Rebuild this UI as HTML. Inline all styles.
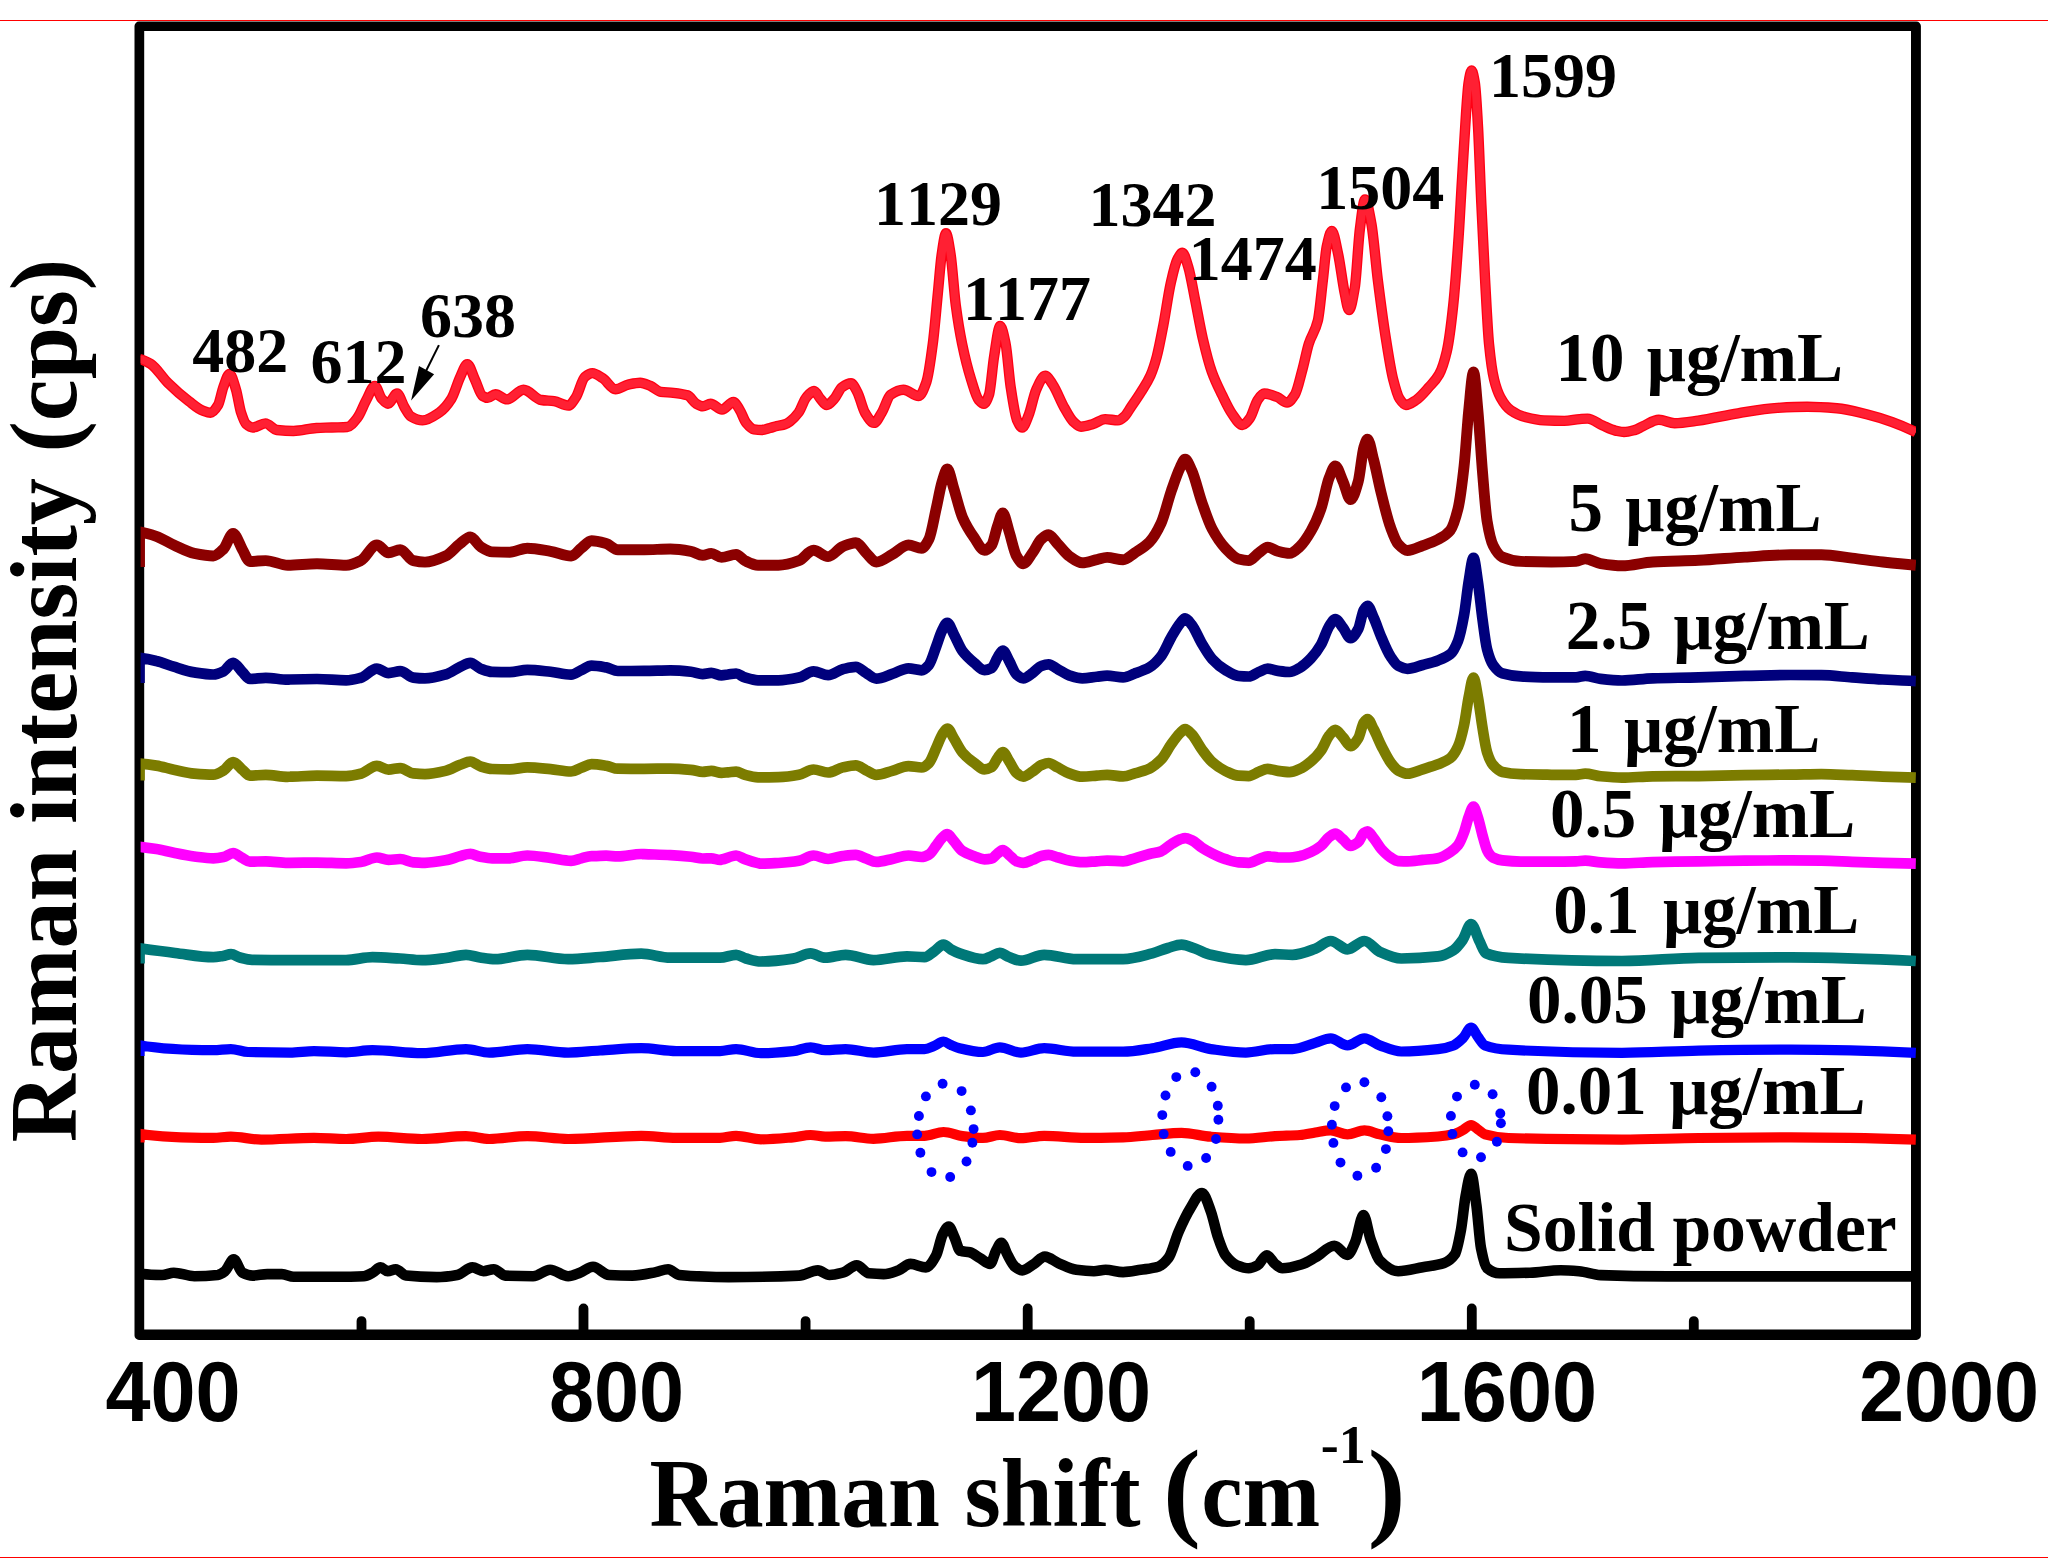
<!DOCTYPE html>
<html lang="en"><head><meta charset="utf-8"><title>Raman spectra</title>
<style>html,body{margin:0;padding:0;background:#fff}body{width:2054px;height:1566px;overflow:hidden}svg{display:block}</style>
</head><body>
<svg width="2054" height="1566" viewBox="0 0 2054 1566">
<defs><clipPath id="cp"><rect x="140.6" y="0" width="1775.4" height="1400"/></clipPath></defs>
<rect x="0" y="0" width="2054" height="1566" fill="#fff"/>
<rect x="0" y="20" width="2048" height="1" fill="#f00"/>
<rect x="0" y="1557" width="2048" height="1" fill="#f00"/>
<path d="M361.5 1334.4V1321.05M583.5 1334.4V1308.4M805.6 1334.4V1321.05M1027.7 1334.4V1308.4M1249.7 1334.4V1321.05M1471.8 1334.4V1308.4M1693.8 1334.4V1321.05" stroke="#000" stroke-width="9.8" stroke-linecap="round" fill="none"/>
<path fill="#000" fill-rule="evenodd" d="M139 21.6H1916.4a4.5 4.5 0 0 1 4.5 4.5V1335.4a4.5 4.5 0 0 1 -4.5 4.5H139a4.5 4.5 0 0 1 -4.5 -4.5V26.1a4.5 4.5 0 0 1 4.5 -4.5ZM144.2 31V1329.5H1911V31Z"/>
<g clip-path="url(#cp)" fill="none" stroke-linejoin="round" stroke-linecap="butt">
<path d="M143.1 1274.1C149.4 1275.0 155.8 1275.0 162.1 1275.0C166.0 1275.0 169.9 1272.7 173.8 1272.7C180.6 1272.7 187.5 1276.2 194.3 1276.2C202.1 1276.2 209.8 1275.8 217.6 1275.0C220.0 1274.7 222.5 1273.0 224.9 1271.2C227.8 1269.0 230.8 1259.4 233.7 1259.4C236.6 1259.4 239.6 1271.3 242.5 1272.7C245.9 1274.4 249.3 1275.6 252.7 1275.6C257.6 1275.6 262.4 1274.1 267.3 1274.1C272.2 1274.1 277.0 1274.1 281.9 1274.1C285.8 1274.1 289.7 1276.8 293.6 1276.8C307.2 1276.8 320.9 1276.8 334.5 1276.8C344.2 1276.8 354.0 1276.7 363.7 1276.2C366.6 1276.1 369.6 1274.2 372.5 1272.7C375.2 1271.4 377.9 1267.4 380.6 1267.4C382.9 1267.4 385.3 1271.2 387.6 1271.2C390.3 1271.2 393.1 1269.2 395.8 1269.2C399.2 1269.2 402.6 1275.2 406.0 1275.6C416.2 1276.7 426.5 1277.1 436.7 1277.1C443.5 1277.1 450.4 1276.2 457.2 1275.0C462.3 1274.1 467.3 1267.4 472.4 1267.4C476.1 1267.4 479.8 1271.2 483.5 1271.2C486.9 1271.2 490.3 1269.2 493.7 1269.2C497.6 1269.2 501.5 1275.4 505.4 1275.6C514.6 1276.0 523.9 1276.2 533.1 1276.2C538.8 1276.2 544.4 1269.8 550.1 1269.8C556.1 1269.8 562.2 1276.2 568.2 1276.2C572.1 1276.2 576.0 1274.1 579.9 1272.7C584.3 1271.1 588.6 1266.8 593.0 1266.8C598.4 1266.8 603.7 1274.7 609.1 1275.0C616.9 1275.4 624.6 1275.6 632.4 1275.6C640.2 1275.6 648.0 1273.6 655.8 1272.1C659.9 1271.3 664.0 1269.2 668.1 1269.2C671.8 1269.2 675.5 1274.6 679.2 1275.0C695.7 1276.6 712.3 1277.1 728.8 1277.1C752.2 1277.1 775.5 1276.7 798.9 1275.6C805.2 1275.3 811.6 1270.4 817.9 1270.4C821.8 1270.4 825.6 1275.0 829.5 1275.0C833.9 1275.0 838.3 1273.8 842.7 1272.7C847.4 1271.5 852.0 1265.4 856.7 1265.4C860.8 1265.4 864.9 1272.9 869.0 1273.3C873.9 1273.8 878.7 1274.1 883.6 1274.1C888.5 1274.1 893.3 1272.1 898.2 1270.4C902.3 1269.0 906.4 1263.9 910.5 1263.9C915.6 1263.9 920.8 1267.4 925.9 1267.4C929.3 1267.4 932.8 1261.4 936.2 1255.2C938.3 1251.4 940.5 1238.7 942.6 1234.7C944.6 1230.9 946.7 1226.5 948.7 1226.5C950.7 1226.5 952.6 1233.4 954.6 1237.6C956.4 1241.5 958.3 1250.3 960.1 1250.8C963.3 1251.8 966.6 1251.5 969.8 1252.2C973.2 1253.0 976.6 1256.2 980.0 1258.1C983.4 1260.0 986.8 1263.9 990.2 1263.9C992.1 1263.9 994.1 1254.3 996.0 1250.8C997.8 1247.6 999.5 1242.7 1001.3 1242.7C1003.4 1242.7 1005.6 1251.5 1007.7 1255.2C1010.1 1259.5 1012.6 1265.0 1015.0 1266.8C1017.4 1268.6 1019.9 1270.4 1022.3 1270.4C1026.2 1270.4 1030.1 1266.3 1034.0 1263.9C1037.6 1261.7 1041.2 1256.6 1044.8 1256.6C1049.5 1256.6 1054.1 1261.3 1058.8 1263.3C1064.7 1265.8 1070.5 1269.0 1076.4 1269.8C1082.2 1270.6 1088.1 1271.2 1093.9 1271.2C1097.8 1271.2 1101.7 1269.8 1105.6 1269.8C1111.4 1269.8 1117.3 1272.1 1123.1 1272.1C1128.9 1272.1 1134.8 1270.7 1140.6 1269.8C1146.5 1268.9 1152.3 1268.6 1158.2 1266.8C1161.6 1265.8 1165.0 1262.5 1168.4 1258.1C1171.8 1253.7 1175.2 1239.5 1178.6 1231.8C1182.5 1223.0 1186.4 1214.6 1190.3 1208.4C1194.2 1202.2 1198.1 1193.0 1202.0 1193.0C1204.9 1193.0 1207.9 1203.5 1210.8 1211.3C1213.2 1217.8 1215.7 1230.6 1218.1 1237.6C1220.5 1244.6 1223.0 1251.9 1225.4 1255.2C1229.3 1260.4 1233.1 1263.9 1237.0 1265.4C1240.9 1266.9 1244.8 1268.3 1248.7 1268.3C1251.6 1268.3 1254.6 1266.9 1257.5 1265.4C1260.6 1263.8 1263.7 1255.2 1266.8 1255.2C1269.5 1255.2 1272.3 1261.8 1275.0 1263.9C1277.4 1265.8 1279.9 1268.3 1282.3 1268.3C1288.6 1268.3 1295.0 1266.4 1301.3 1264.5C1306.0 1263.1 1310.6 1260.0 1315.3 1257.4C1321.7 1253.9 1328.0 1245.7 1334.4 1245.7C1338.8 1245.7 1343.1 1254.9 1347.5 1254.9C1350.1 1254.9 1352.6 1247.7 1355.2 1242.0C1358.0 1235.9 1360.7 1215.0 1363.5 1215.0C1365.8 1215.0 1368.2 1232.4 1370.5 1238.9C1373.6 1247.5 1376.6 1257.3 1379.7 1260.4C1385.8 1266.6 1392.0 1271.2 1398.1 1271.2C1406.3 1271.2 1414.5 1268.7 1422.7 1267.2C1429.9 1265.9 1437.0 1265.4 1444.2 1262.9C1447.8 1261.7 1451.3 1259.4 1454.9 1254.3C1456.9 1251.4 1459.0 1240.4 1461.0 1229.7C1462.5 1221.6 1464.1 1204.0 1465.6 1196.0C1467.4 1186.4 1469.3 1173.9 1471.1 1173.9C1472.9 1173.9 1474.6 1192.4 1476.4 1205.2C1477.9 1216.3 1479.5 1240.5 1481.0 1248.1C1483.0 1258.2 1485.1 1266.4 1487.1 1268.1C1491.2 1271.5 1495.3 1273.3 1499.4 1273.3C1509.6 1273.3 1519.8 1273.0 1530.0 1272.7C1540.2 1272.4 1550.5 1270.2 1560.7 1270.2C1566.8 1270.2 1573.0 1270.7 1579.1 1271.2C1586.3 1271.8 1593.4 1274.8 1600.6 1275.1C1623.1 1276.0 1645.6 1276.4 1668.1 1276.4C1709.0 1276.4 1749.9 1276.4 1790.8 1276.4C1831.2 1276.4 1871.6 1276.4 1912.0 1276.4" stroke="#000000" stroke-width="10.6"/>
<path d="M139.5 1142.5L139.5 1133.8C164.1 1137.6 188.7 1137.9 213.3 1137.9C219.1 1137.9 225.0 1136.7 230.8 1136.7C241.0 1136.7 251.2 1139.6 261.4 1139.6C278.9 1139.6 296.5 1137.9 314.0 1137.9C324.7 1137.9 335.5 1139.0 346.2 1139.0C356.9 1139.0 367.6 1136.7 378.3 1136.7C392.9 1136.7 407.4 1139.0 422.0 1139.0C436.7 1139.0 451.3 1136.1 466.0 1136.1C473.8 1136.1 481.5 1139.0 489.3 1139.0C502.0 1139.0 514.6 1136.1 527.3 1136.1C540.9 1136.1 554.6 1139.0 568.2 1139.0C592.5 1139.0 616.9 1135.8 641.2 1135.8C652.9 1135.8 664.6 1137.9 676.3 1137.9C690.9 1137.9 705.4 1137.9 720.0 1137.9C725.4 1137.9 730.7 1135.8 736.1 1135.8C744.4 1135.8 752.6 1139.3 760.9 1139.3C771.6 1139.3 782.3 1138.2 793.0 1137.3C798.9 1136.8 804.7 1135.0 810.6 1135.0C815.5 1135.0 820.3 1136.7 825.2 1136.7C832.0 1136.7 838.8 1136.1 845.6 1136.1C854.9 1136.1 864.1 1138.8 873.4 1138.8C884.6 1138.8 895.8 1135.8 907.0 1135.8C912.8 1135.8 918.7 1135.8 924.5 1135.8C930.8 1135.8 937.2 1132.0 943.5 1132.0C949.8 1132.0 956.2 1135.3 962.5 1136.1C969.3 1137.0 976.1 1137.9 982.9 1137.9C988.5 1137.9 994.2 1135.0 999.8 1135.0C1006.8 1135.0 1013.9 1138.2 1020.9 1138.2C1028.7 1138.2 1036.4 1135.8 1044.2 1135.8C1057.8 1135.8 1071.4 1137.9 1085.0 1137.9C1097.7 1137.9 1110.4 1137.6 1123.1 1137.3C1132.8 1137.0 1142.6 1135.7 1152.3 1135.0C1162.0 1134.3 1171.8 1132.9 1181.5 1132.9C1191.3 1132.9 1201.0 1136.0 1210.8 1136.7C1222.5 1137.6 1234.1 1138.5 1245.8 1138.5C1255.5 1138.5 1265.3 1136.7 1275.0 1136.1C1283.3 1135.6 1291.7 1135.6 1300.0 1135.0C1305.1 1134.6 1310.2 1133.3 1315.3 1132.5C1320.4 1131.7 1325.6 1130.4 1330.7 1130.4C1336.3 1130.4 1341.9 1134.3 1347.5 1134.3C1353.1 1134.3 1358.8 1130.4 1364.4 1130.4C1369.5 1130.4 1374.6 1133.2 1379.7 1134.3C1386.9 1135.8 1394.0 1138.0 1401.2 1138.0C1413.5 1138.0 1425.7 1137.3 1438.0 1136.5C1443.1 1136.1 1448.3 1135.5 1453.4 1134.3C1456.6 1133.6 1459.8 1131.7 1463.0 1130.0C1465.7 1128.6 1468.4 1125.1 1471.1 1125.1C1473.4 1125.1 1475.7 1128.0 1478.0 1129.5C1480.3 1131.0 1482.7 1133.6 1485.0 1134.3C1492.9 1136.6 1500.7 1137.8 1508.6 1138.0C1546.4 1139.2 1584.2 1139.6 1622.0 1139.6C1647.6 1139.6 1673.1 1138.3 1698.7 1138.0C1729.4 1137.7 1760.1 1137.4 1790.8 1137.4C1832.5 1137.4 1874.1 1138.3 1915.8 1139.6" stroke="#FF0000" stroke-width="10.2"/>
<path d="M139.5 1056L139.5 1045.3C164.1 1049.5 188.7 1050.2 213.3 1050.2C219.1 1050.2 225.0 1049.1 230.8 1049.1C236.5 1049.1 242.3 1051.8 248.0 1052.0C262.0 1052.4 276.0 1052.6 290.0 1052.6C298.0 1052.6 306.0 1051.1 314.0 1051.1C324.7 1051.1 335.3 1052.3 346.0 1052.3C354.8 1052.3 363.7 1050.2 372.5 1050.2C389.0 1050.2 405.5 1053.2 422.0 1053.2C436.7 1053.2 451.3 1049.1 466.0 1049.1C473.8 1049.1 481.5 1052.6 489.3 1052.6C502.0 1052.6 514.6 1049.1 527.3 1049.1C540.9 1049.1 554.6 1052.6 568.2 1052.6C578.8 1052.6 589.4 1051.1 600.0 1050.5C613.7 1049.7 627.5 1048.2 641.2 1048.2C652.9 1048.2 664.6 1051.1 676.3 1051.1C690.9 1051.1 705.4 1051.1 720.0 1051.1C725.4 1051.1 730.7 1049.1 736.1 1049.1C744.4 1049.1 752.6 1053.2 760.9 1053.2C771.6 1053.2 782.3 1052.2 793.0 1051.1C798.9 1050.5 804.7 1047.3 810.6 1047.3C815.5 1047.3 820.3 1050.2 825.2 1050.2C832.0 1050.2 838.8 1049.1 845.6 1049.1C854.9 1049.1 864.1 1052.6 873.4 1052.6C884.6 1052.6 895.8 1049.1 907.0 1049.1C912.8 1049.1 918.7 1049.1 924.5 1049.1C927.7 1049.1 930.8 1047.2 934.0 1046.0C937.2 1044.8 940.3 1041.5 943.5 1041.5C946.0 1041.5 948.5 1044.0 951.0 1045.0C953.8 1046.2 956.7 1047.5 959.5 1048.2C967.3 1050.1 975.1 1052.0 982.9 1052.0C988.5 1052.0 994.2 1047.3 999.8 1047.3C1006.8 1047.3 1013.9 1052.6 1020.9 1052.6C1028.7 1052.6 1036.4 1048.2 1044.2 1048.2C1054.9 1048.2 1065.7 1051.7 1076.4 1051.7C1092.0 1051.7 1107.5 1051.7 1123.1 1051.7C1132.8 1051.7 1142.6 1049.7 1152.3 1048.2C1162.0 1046.7 1171.8 1042.4 1181.5 1042.4C1191.3 1042.4 1201.0 1047.7 1210.8 1049.1C1222.5 1050.7 1234.1 1052.6 1245.8 1052.6C1255.5 1052.6 1265.3 1049.1 1275.0 1049.1C1280.8 1049.1 1286.7 1049.1 1292.5 1049.1C1300.1 1049.1 1307.7 1045.1 1315.3 1042.9C1320.4 1041.4 1325.6 1038.3 1330.7 1038.3C1336.3 1038.3 1341.9 1045.4 1347.5 1045.4C1353.1 1045.4 1358.8 1038.3 1364.4 1038.3C1369.5 1038.3 1374.6 1043.6 1379.7 1045.4C1386.9 1048.0 1394.0 1051.5 1401.2 1051.5C1413.5 1051.5 1425.7 1050.5 1438.0 1049.1C1443.1 1048.5 1448.3 1047.4 1453.4 1045.4C1456.6 1044.2 1459.8 1041.1 1463.0 1038.0C1465.7 1035.4 1468.4 1027.6 1471.1 1027.6C1473.4 1027.6 1475.7 1034.1 1478.0 1037.0C1480.3 1040.0 1482.7 1044.5 1485.0 1045.4C1492.9 1048.3 1500.7 1049.3 1508.6 1049.7C1546.4 1051.8 1584.2 1052.8 1622.0 1052.8C1647.6 1052.8 1673.1 1051.0 1698.7 1050.6C1729.4 1050.1 1760.1 1049.7 1790.8 1049.7C1832.5 1049.7 1874.1 1050.9 1915.8 1052.8" stroke="#0000FF" stroke-width="10.2"/>
<path d="M139.5 963.6L139.5 948.4C151.3 950.0 163.2 951.6 175.0 953.0C187.8 954.5 200.5 957.2 213.3 957.2C216.5 957.2 219.8 956.5 223.0 956.0C225.7 955.6 228.3 954.2 231.0 954.2C234.0 954.2 237.0 956.7 240.0 957.5C244.0 958.5 248.0 959.7 252.0 959.8C264.7 960.0 277.3 960.1 290.0 960.1C308.7 960.1 327.3 960.1 346.0 960.1C354.8 960.1 363.7 957.2 372.5 957.2C381.7 957.2 390.8 958.0 400.0 958.5C407.3 958.9 414.7 960.1 422.0 960.1C430.0 960.1 438.0 958.9 446.0 958.0C452.7 957.2 459.3 954.8 466.0 954.8C470.7 954.8 475.3 956.8 480.0 957.5C485.0 958.2 490.0 959.2 495.0 959.2C505.8 959.2 516.5 954.8 527.3 954.8C540.9 954.8 554.6 959.2 568.2 959.2C578.8 959.2 589.4 957.8 600.0 957.0C613.7 956.0 627.5 953.7 641.2 953.7C650.9 953.7 660.7 957.7 670.4 957.7C686.9 957.7 703.5 957.7 720.0 957.7C725.4 957.7 730.7 954.8 736.1 954.8C739.4 954.8 742.7 957.6 746.0 958.5C751.0 959.8 755.9 961.5 760.9 961.5C771.6 961.5 782.3 960.2 793.0 958.6C798.9 957.7 804.7 953.4 810.6 953.4C815.5 953.4 820.3 957.7 825.2 957.7C832.0 957.7 838.8 954.8 845.6 954.8C854.9 954.8 864.1 960.1 873.4 960.1C884.6 960.1 895.8 956.3 907.0 956.3C912.8 956.3 918.7 957.2 924.5 957.2C927.7 957.2 930.8 953.6 934.0 951.5C937.2 949.4 940.3 944.6 943.5 944.6C946.0 944.6 948.5 948.1 951.0 949.5C953.8 951.0 956.7 952.4 959.5 953.4C967.3 956.0 975.1 959.2 982.9 959.2C985.6 959.2 988.3 957.5 991.0 956.5C993.9 955.4 996.9 952.8 999.8 952.8C1002.9 952.8 1005.9 955.9 1009.0 957.0C1013.0 958.5 1016.9 960.7 1020.9 960.7C1028.7 960.7 1036.4 954.8 1044.2 954.8C1054.9 954.8 1065.7 959.2 1076.4 959.2C1092.0 959.2 1107.5 959.2 1123.1 959.2C1132.8 959.2 1142.6 955.9 1152.3 953.4C1157.5 952.0 1162.8 949.5 1168.0 948.0C1172.5 946.7 1177.0 944.6 1181.5 944.6C1186.0 944.6 1190.5 947.0 1195.0 948.5C1200.3 950.3 1205.5 953.6 1210.8 954.8C1222.5 957.5 1234.1 960.1 1245.8 960.1C1255.5 960.1 1265.3 954.2 1275.0 954.2C1280.8 954.2 1286.7 954.8 1292.5 954.8C1300.1 954.8 1307.7 951.4 1315.3 948.7C1320.4 946.9 1325.6 941.0 1330.7 941.0C1336.3 941.0 1341.9 949.3 1347.5 949.3C1353.1 949.3 1358.8 941.0 1364.4 941.0C1369.5 941.0 1374.6 949.5 1379.7 951.8C1386.9 955.0 1394.0 958.5 1401.2 958.5C1413.5 958.5 1425.7 957.8 1438.0 956.4C1443.1 955.8 1448.3 953.4 1453.4 950.2C1456.5 948.3 1459.5 944.3 1462.6 940.0C1465.4 936.1 1468.3 924.2 1471.1 924.2C1473.9 924.2 1476.6 935.6 1479.4 941.0C1481.6 945.3 1483.8 952.4 1486.0 953.3C1493.5 956.5 1501.1 957.5 1508.6 957.9C1546.4 960.1 1584.2 961.0 1622.0 961.0C1647.6 961.0 1673.1 958.2 1698.7 957.9C1729.4 957.5 1760.1 957.3 1790.8 957.3C1832.5 957.3 1874.1 958.9 1915.8 961.0" stroke="#007878" stroke-width="10.7"/>
<path d="M139.5 846.7C145.1 847.3 150.7 848.1 156.3 849.0C162.1 850.0 168.0 851.6 173.8 852.7C180.6 854.1 187.5 855.6 194.3 856.5C200.6 857.3 207.0 858.4 213.3 858.4C216.7 858.4 220.1 857.8 223.5 857.1C226.7 856.5 229.9 853.2 233.1 853.2C236.2 853.2 239.4 856.5 242.5 858.1C244.9 859.3 247.4 861.6 249.8 861.6C255.1 861.6 260.5 861.4 265.8 861.4C273.1 861.4 280.4 862.8 287.7 862.8C288.5 862.8 289.2 862.8 290.0 862.8C299.0 862.8 308.0 862.6 317.0 862.6C326.7 862.6 336.5 863.3 346.2 863.3C351.1 863.3 355.9 862.7 360.8 862.0C366.1 861.4 371.5 857.5 376.8 857.5C380.7 857.5 384.6 859.9 388.5 859.9C392.4 859.9 396.3 859.0 400.2 859.0C404.6 859.0 409.0 862.0 413.4 862.4C416.3 862.6 419.1 862.8 422.0 862.8C423.0 862.8 424.0 862.8 425.0 862.8C431.8 862.6 438.7 861.5 445.5 860.3C450.4 859.5 455.2 857.5 460.1 856.2C463.0 855.4 466.0 854.2 468.9 854.0C469.4 854.0 469.8 853.9 470.3 853.9C473.7 853.9 477.1 856.2 480.5 856.8C484.4 857.5 488.3 858.3 492.2 858.4C497.8 858.4 503.4 858.4 509.0 858.4C509.3 858.4 509.5 858.4 509.8 858.3C515.6 857.7 521.5 855.5 527.3 855.5C535.1 855.5 542.8 857.1 550.6 858.0C557.4 858.8 564.3 860.8 571.1 860.8C574.5 860.8 577.9 859.2 581.3 858.4C584.7 857.6 588.1 856.1 591.5 856.1C592.3 856.1 593.2 856.1 594.0 856.1C598.1 856.1 602.1 855.7 606.2 855.7C610.1 855.7 613.9 856.4 617.8 856.4C625.6 856.4 633.4 854.0 641.2 854.0C642.2 854.0 643.1 854.1 644.1 854.1C652.9 854.5 661.6 854.7 670.4 855.2C677.2 855.5 684.1 856.0 690.9 856.8C694.8 857.2 698.7 858.5 702.6 858.5C705.5 858.5 708.4 858.4 711.3 858.4C714.2 858.4 717.1 859.9 720.0 859.9C720.5 859.9 721.0 859.7 721.5 859.6C726.4 858.7 731.2 855.5 736.1 855.5C739.0 855.5 741.9 858.1 744.8 859.1C749.2 860.7 753.6 862.1 758.0 863.1C759.0 863.3 759.9 863.7 760.9 863.7C766.7 863.7 772.6 863.3 778.4 863.0C785.2 862.6 792.1 862.0 798.9 860.8C803.8 860.0 808.6 855.5 813.5 855.5C818.4 855.5 823.2 859.0 828.1 859.0C833.0 859.0 837.8 856.6 842.7 856.0C847.1 855.5 851.4 854.9 855.8 854.9C859.2 854.9 862.7 857.3 866.1 858.5C869.5 859.7 872.9 861.9 876.3 861.9C881.6 861.9 887.0 860.0 892.3 858.9C897.7 857.9 903.0 855.5 908.4 855.5C912.8 855.5 917.2 857.0 921.6 857.0C924.0 857.0 926.5 855.8 928.9 854.6C931.3 853.3 933.8 848.7 936.2 845.6C938.1 843.2 940.1 839.7 942.0 838.0C943.8 836.3 945.5 834.2 947.3 834.2C949.4 834.2 951.6 838.6 953.7 840.9C956.6 844.2 959.6 849.2 962.5 851.1C966.4 853.7 970.3 854.9 974.2 856.3C977.6 857.5 981.0 859.3 984.4 859.3C986.8 859.3 989.3 859.0 991.7 858.5C993.6 858.2 995.6 854.9 997.5 853.5C999.3 852.2 1001.0 850.2 1002.8 850.2C1004.9 850.2 1007.1 853.3 1009.2 855.1C1011.6 857.0 1014.1 860.5 1016.5 861.3C1018.7 862.1 1021.0 862.8 1023.2 862.8C1026.3 862.8 1029.5 861.0 1032.6 859.8C1035.5 858.7 1038.4 856.6 1041.3 856.0C1043.7 855.5 1046.2 854.9 1048.6 854.9C1051.5 854.9 1054.5 856.4 1057.4 857.3C1061.3 858.3 1065.2 859.9 1069.1 860.6C1073.5 861.3 1077.8 862.2 1082.2 862.2C1087.1 862.2 1091.9 861.6 1096.8 861.3C1100.2 861.1 1103.7 860.6 1107.1 860.6C1112.4 860.6 1117.8 861.3 1123.1 861.3C1127.0 861.3 1130.9 859.4 1134.8 858.3C1139.7 857.0 1144.5 855.3 1149.4 854.0C1153.3 853.0 1157.2 852.6 1161.1 851.3C1164.5 850.1 1167.9 846.3 1171.3 844.2C1174.2 842.5 1177.2 840.4 1180.1 839.4C1181.8 838.9 1183.4 838.2 1185.1 838.2C1187.3 838.2 1189.6 839.3 1191.8 840.2C1195.2 841.6 1198.6 845.6 1202.0 847.7C1205.4 849.9 1208.8 851.8 1212.2 853.5C1216.6 855.7 1221.0 857.8 1225.4 859.2C1229.8 860.5 1234.1 862.1 1238.5 862.4C1241.9 862.6 1245.3 862.8 1248.7 862.8C1252.1 862.8 1255.6 860.3 1259.0 859.1C1261.9 858.2 1264.8 856.4 1267.7 856.4C1271.1 856.4 1274.5 857.1 1277.9 857.3C1281.8 857.4 1285.7 857.5 1289.6 857.5C1293.0 857.5 1296.4 856.7 1299.8 856.1C1303.5 855.3 1307.3 853.7 1311.0 852.0C1314.3 850.5 1317.7 848.5 1321.0 845.9C1323.7 843.8 1326.4 839.0 1329.1 837.1C1331.2 835.6 1333.2 833.7 1335.3 833.7C1337.8 833.7 1340.4 837.3 1342.9 839.3C1345.5 841.3 1348.0 845.9 1350.6 845.9C1353.2 845.9 1355.7 844.0 1358.3 842.0C1360.1 840.5 1362.0 834.3 1363.8 833.0C1365.0 832.2 1366.3 831.3 1367.5 831.3C1369.5 831.3 1371.6 835.6 1373.6 838.1C1376.2 841.3 1378.7 846.1 1381.3 849.0C1384.4 852.4 1387.4 855.5 1390.5 857.4C1393.1 859.0 1395.6 860.9 1398.2 861.1C1401.3 861.2 1404.3 861.3 1407.4 861.3C1412.5 861.3 1417.6 860.4 1422.7 859.9C1427.8 859.4 1432.9 859.2 1438.0 858.2C1442.1 857.4 1446.2 854.8 1450.3 852.1C1452.9 850.4 1455.4 848.6 1458.0 845.3C1460.0 842.7 1462.1 837.5 1464.1 832.1C1465.6 828.1 1467.2 820.9 1468.7 816.9C1470.3 812.8 1471.9 806.7 1473.5 806.7C1475.0 806.7 1476.4 813.2 1477.9 817.6C1479.4 822.2 1481.0 829.8 1482.5 835.2C1484.0 840.6 1485.6 847.1 1487.1 850.2C1488.1 852.4 1489.2 854.0 1490.2 855.1C1491.2 856.2 1492.2 857.1 1493.2 857.6C1496.3 859.1 1499.3 860.0 1502.4 860.4C1508.5 861.1 1514.7 861.6 1520.8 861.6C1531.0 861.6 1541.3 861.6 1551.5 861.6C1559.7 861.6 1567.8 861.5 1576.0 861.3C1579.1 861.2 1582.1 860.7 1585.2 860.7C1590.3 860.7 1595.5 862.0 1600.6 862.4C1607.7 862.9 1614.9 863.4 1622.0 863.4C1632.2 863.4 1642.5 862.3 1652.7 862.1C1668.0 861.7 1683.4 861.5 1698.7 861.3C1714.0 861.1 1729.4 860.9 1744.7 860.7C1760.1 860.6 1775.4 860.4 1790.8 860.4C1801.0 860.4 1811.2 860.5 1821.4 860.7C1831.6 860.8 1841.9 861.5 1852.1 861.9C1862.3 862.3 1872.6 862.6 1882.8 862.9C1893.8 863.2 1904.8 863.5 1915.8 863.7" stroke="#FF00FF" stroke-width="10.7"/>
<path d="M139.5 780.5L139.5 763.6C145.1 764.0 150.7 764.7 156.3 765.6C162.1 766.5 168.0 768.5 173.8 769.7C180.6 771.1 187.5 773.0 194.3 773.6C200.6 774.2 207.0 774.7 213.3 774.7C216.7 774.7 220.1 772.4 223.5 770.5C226.7 768.7 229.9 762.1 233.1 762.1C236.2 762.1 239.4 767.4 242.5 769.9C244.9 771.9 247.4 775.6 249.8 775.6C255.1 775.6 260.5 774.9 265.8 774.9C273.1 774.9 280.4 776.8 287.7 776.8C288.5 776.8 289.2 776.7 290.0 776.7C299.0 776.5 308.0 775.7 317.0 775.7C326.7 775.7 336.5 776.1 346.2 776.1C351.1 776.1 355.9 774.9 360.8 773.7C366.1 772.4 371.5 765.9 376.8 765.9C380.7 765.9 384.6 769.6 388.5 769.6C392.4 769.6 396.3 768.1 400.2 768.1C404.6 768.1 409.0 772.9 413.4 773.4C417.3 773.8 421.1 774.1 425.0 774.1C431.8 774.1 438.7 772.5 445.5 770.9C450.4 769.8 455.2 766.6 460.1 764.8C463.5 763.6 466.9 761.5 470.3 761.5C473.7 761.5 477.1 765.3 480.5 766.3C484.4 767.5 488.3 768.9 492.2 769.0C498.1 769.2 503.9 769.3 509.8 769.3C515.6 769.3 521.5 767.4 527.3 767.4C535.1 767.4 542.8 768.4 550.6 769.1C557.4 769.7 564.3 771.5 571.1 771.5C574.5 771.5 577.9 769.0 581.3 767.8C584.7 766.6 588.1 764.2 591.5 764.2C596.4 764.2 601.3 765.0 606.2 765.7C610.1 766.2 613.9 768.7 617.8 768.7C626.6 768.8 635.3 768.8 644.1 768.8C652.9 768.8 661.6 768.6 670.4 768.6C677.2 768.6 684.1 769.2 690.9 769.8C694.8 770.1 698.7 771.8 702.6 771.8C705.5 771.8 708.4 770.9 711.3 770.9C714.7 770.9 718.1 772.9 721.5 772.9C723.7 772.9 725.8 772.5 728.0 772.3C730.7 772.1 733.4 771.6 736.1 771.6C739.0 771.6 741.9 774.1 744.8 774.8C749.2 775.9 753.6 777.1 758.0 777.3C758.7 777.3 759.3 777.3 760.0 777.3C766.1 777.3 772.3 777.2 778.4 777.1C785.2 777.0 792.1 776.0 798.9 774.7C803.8 773.8 808.6 769.5 813.5 769.5C818.4 769.5 823.2 772.5 828.1 772.5C833.0 772.5 837.8 768.5 842.7 767.4C847.1 766.5 851.4 765.4 855.8 765.4C859.2 765.4 862.7 768.7 866.1 770.3C869.5 771.8 872.9 774.8 876.3 774.8C881.6 774.8 887.0 772.2 892.3 770.8C897.7 769.4 903.0 766.1 908.4 766.1C912.8 766.1 917.2 767.5 921.6 767.5C924.0 767.5 926.5 765.4 928.9 763.1C931.3 760.8 933.8 753.2 936.2 748.0C938.1 743.8 940.1 738.1 942.0 735.0C943.8 732.2 945.5 728.5 947.3 728.5C949.4 728.5 951.6 734.7 953.7 738.0C956.6 742.6 959.6 749.2 962.5 752.6C966.4 757.2 970.3 760.1 974.2 762.9C977.6 765.4 981.0 769.4 984.4 769.4C986.8 769.4 989.3 768.4 991.7 767.1C993.6 766.1 995.6 760.7 997.5 758.2C999.3 755.8 1001.0 752.0 1002.8 752.0C1004.9 752.0 1007.1 758.0 1009.2 761.2C1011.6 764.9 1014.1 770.9 1016.5 772.9C1018.7 774.8 1021.0 776.7 1023.2 776.7C1026.3 776.7 1029.5 773.5 1032.6 771.5C1035.5 769.7 1038.4 766.2 1041.3 765.0C1043.7 764.1 1046.2 763.0 1048.6 763.0C1051.5 763.0 1054.5 765.8 1057.4 767.3C1061.3 769.3 1065.2 772.0 1069.1 773.4C1073.5 774.9 1077.8 776.7 1082.2 776.7C1087.1 776.7 1091.9 776.0 1096.8 775.6C1100.2 775.4 1103.7 774.8 1107.1 774.8C1112.4 774.8 1117.8 776.4 1123.1 776.4C1127.0 776.4 1130.9 774.5 1134.8 773.4C1139.7 772.0 1144.5 770.8 1149.4 768.6C1153.3 766.7 1157.2 763.6 1161.1 759.6C1164.5 756.1 1167.9 748.9 1171.3 744.2C1174.2 740.1 1177.2 735.8 1180.1 733.0C1181.8 731.4 1183.4 729.0 1185.1 729.0C1187.3 729.0 1189.6 732.0 1191.8 734.3C1195.2 737.8 1198.6 745.0 1202.0 749.6C1205.4 754.2 1208.8 759.1 1212.2 762.1C1216.6 766.0 1221.0 768.9 1225.4 771.0C1229.8 773.0 1234.1 775.5 1238.5 775.7C1241.9 775.9 1245.3 776.1 1248.7 776.1C1252.1 776.1 1255.6 773.1 1259.0 771.8C1261.9 770.7 1264.8 768.8 1267.7 768.8C1271.1 768.8 1274.5 770.4 1277.9 770.9C1281.8 771.5 1285.7 772.1 1289.6 772.1C1293.0 772.1 1296.4 770.4 1299.8 768.9C1303.5 767.3 1307.3 764.5 1311.0 761.4C1314.3 758.7 1317.7 755.2 1321.0 750.6C1323.7 746.9 1326.4 739.1 1329.1 735.7C1331.2 733.2 1333.2 729.9 1335.3 729.9C1337.8 729.9 1340.4 734.6 1342.9 737.2C1345.5 739.9 1348.0 746.1 1350.6 746.1C1353.2 746.1 1355.7 742.2 1358.3 738.2C1360.1 735.4 1362.0 725.1 1363.8 722.5C1365.0 720.8 1366.3 719.0 1367.5 719.0C1369.5 719.0 1371.6 725.3 1373.6 729.1C1376.2 733.8 1378.7 740.6 1381.3 745.7C1384.4 751.7 1387.4 758.1 1390.5 762.2C1393.1 765.6 1395.6 769.1 1398.2 770.5C1401.3 772.1 1404.3 773.7 1407.4 773.7C1412.5 773.7 1417.6 770.9 1422.7 769.3C1427.8 767.7 1432.9 766.3 1438.0 764.3C1442.1 762.6 1446.2 761.3 1450.3 758.1C1452.9 756.1 1455.4 752.1 1458.0 746.6C1460.0 742.2 1462.1 734.0 1464.1 724.8C1465.6 717.8 1467.2 704.6 1468.7 697.1C1470.3 689.3 1471.9 677.5 1473.5 677.5C1475.0 677.5 1476.4 689.2 1477.9 697.0C1479.4 705.2 1481.0 718.6 1482.5 727.7C1484.0 736.8 1485.6 747.6 1487.1 752.3C1489.1 758.6 1491.2 762.9 1493.2 765.2C1496.3 768.6 1499.3 771.3 1502.4 772.0C1508.5 773.4 1514.7 774.0 1520.8 774.2C1528.2 774.4 1535.6 774.5 1543.0 774.6C1545.8 774.7 1548.7 774.7 1551.5 774.8C1559.7 774.8 1567.8 774.8 1576.0 774.8C1579.1 774.8 1582.1 773.7 1585.2 773.7C1590.3 773.7 1595.5 775.8 1600.6 776.3C1607.7 777.0 1614.9 777.7 1622.0 777.7C1632.2 777.7 1642.5 776.4 1652.7 776.3C1668.0 776.1 1683.4 776.2 1698.7 776.1C1714.0 775.9 1729.4 775.3 1744.7 775.1C1760.1 774.9 1775.4 774.8 1790.8 774.6C1801.0 774.5 1811.2 774.1 1821.4 774.1C1831.6 774.1 1841.9 774.8 1852.1 775.2C1862.3 775.7 1872.6 776.3 1882.8 776.7C1893.8 777.1 1904.8 777.4 1915.8 777.7" stroke="#7C7C00" stroke-width="10.7"/>
<path d="M139.5 683L139.5 657.8C145.1 658.5 150.7 659.6 156.3 661.0C162.1 662.3 168.0 665.0 173.8 666.7C180.6 668.8 187.5 671.3 194.3 672.4C200.6 673.4 207.0 674.5 213.3 674.5C216.7 674.5 220.1 672.9 223.5 671.3C226.7 669.8 229.9 662.8 233.1 662.8C236.2 662.8 239.4 669.2 242.5 672.2C244.9 674.5 247.4 679.0 249.8 679.0C255.1 679.0 260.5 677.8 265.8 677.8C273.1 677.8 280.4 679.6 287.7 679.6C288.5 679.6 289.2 679.5 290.0 679.5C299.0 679.2 308.0 679.0 317.0 679.0C326.7 679.0 336.5 680.3 346.2 680.3C351.1 680.3 355.9 679.0 360.8 677.8C366.1 676.3 371.5 668.6 376.8 668.6C380.7 668.6 384.6 673.1 388.5 673.1C392.4 673.1 396.3 671.2 400.2 671.2C404.6 671.2 409.0 677.1 413.4 677.6C417.3 678.1 421.1 678.4 425.0 678.4C431.8 678.4 438.7 676.4 445.5 674.5C450.4 673.1 455.2 669.1 460.1 666.9C463.5 665.4 466.9 662.8 470.3 662.8C473.7 662.8 477.1 667.4 480.5 668.7C484.4 670.1 488.3 671.8 492.2 671.9C498.1 672.1 503.9 672.2 509.8 672.2C515.6 672.2 521.5 669.9 527.3 669.9C535.1 669.9 542.8 671.0 550.6 671.8C557.4 672.6 564.3 674.7 571.1 674.7C574.5 674.7 577.9 671.6 581.3 670.1C584.7 668.6 588.1 665.7 591.5 665.7C596.4 665.7 601.3 666.6 606.2 667.4C610.1 668.1 613.9 671.0 617.8 671.0C626.6 671.0 635.3 671.0 644.1 670.9C652.9 670.9 661.6 670.4 670.4 670.4C677.2 670.4 684.1 671.0 690.9 671.7C694.8 672.1 698.7 674.1 702.6 674.1C705.5 674.1 708.4 672.9 711.3 672.9C714.7 672.9 718.1 675.3 721.5 675.3C723.7 675.3 725.8 674.8 728.0 674.5C730.7 674.2 733.4 673.5 736.1 673.5C739.0 673.5 741.9 676.5 744.8 677.4C749.2 678.7 753.6 680.2 758.0 680.3C758.7 680.3 759.3 680.3 760.0 680.3C766.1 680.3 772.3 680.3 778.4 680.3C785.2 680.3 792.1 679.0 798.9 677.6C803.8 676.6 808.6 671.4 813.5 671.4C818.4 671.4 823.2 675.2 828.1 675.2C833.0 675.2 837.8 670.4 842.7 669.2C847.1 668.2 851.4 666.9 855.8 666.9C859.2 666.9 862.7 671.0 866.1 673.0C869.5 674.9 872.9 678.6 876.3 678.6C881.6 678.6 887.0 675.6 892.3 673.9C897.7 672.3 903.0 668.4 908.4 668.4C912.8 668.4 917.2 670.3 921.6 670.3C924.0 670.3 926.5 667.7 928.9 664.9C931.3 662.1 933.8 652.9 936.2 646.5C938.1 641.4 940.1 634.4 942.0 630.7C943.8 627.3 945.5 622.8 947.3 622.8C949.4 622.8 951.6 630.1 953.7 634.0C956.6 639.4 959.6 647.2 962.5 651.2C966.4 656.4 970.3 659.7 974.2 662.9C977.6 665.7 981.0 670.1 984.4 670.1C986.8 670.1 989.3 669.3 991.7 668.0C993.6 667.0 995.6 660.5 997.5 657.6C999.3 654.9 1001.0 650.5 1002.8 650.5C1004.9 650.5 1007.1 657.3 1009.2 661.0C1011.6 665.2 1014.1 672.4 1016.5 674.5C1018.7 676.4 1021.0 678.3 1023.2 678.3C1026.3 678.3 1029.5 675.1 1032.6 673.0C1035.5 671.0 1038.4 667.0 1041.3 666.0C1043.7 665.1 1046.2 664.3 1048.6 664.3C1051.5 664.3 1054.5 667.3 1057.4 668.9C1061.3 670.9 1065.2 674.0 1069.1 675.3C1073.5 676.7 1077.8 678.3 1082.2 678.3C1087.1 678.3 1091.9 677.3 1096.8 676.8C1100.2 676.4 1103.7 675.7 1107.1 675.7C1112.4 675.7 1117.8 677.3 1123.1 677.3C1127.0 677.3 1130.9 674.9 1134.8 673.4C1139.7 671.7 1144.5 670.2 1149.4 667.4C1153.3 665.1 1157.2 661.2 1161.1 656.2C1164.5 651.9 1167.9 643.0 1171.3 637.2C1174.2 632.2 1177.2 626.8 1180.1 623.3C1181.8 621.4 1183.4 618.4 1185.1 618.4C1187.3 618.4 1189.6 622.2 1191.8 624.9C1195.2 629.2 1198.6 638.1 1202.0 643.8C1205.4 649.4 1208.8 655.4 1212.2 659.1C1216.6 663.9 1221.0 667.5 1225.4 670.0C1229.8 672.6 1234.1 675.6 1238.5 676.0C1241.9 676.3 1245.3 676.5 1248.7 676.5C1252.1 676.5 1255.6 673.3 1259.0 671.9C1261.9 670.7 1264.8 668.6 1267.7 668.6C1271.1 668.6 1274.5 670.4 1277.9 670.9C1281.8 671.4 1285.7 672.0 1289.6 672.0C1293.0 672.0 1296.4 669.7 1299.8 667.8C1303.5 665.7 1307.3 662.2 1311.0 658.3C1314.3 654.8 1317.7 650.5 1321.0 644.7C1323.7 640.1 1326.4 630.5 1329.1 626.3C1331.2 623.2 1333.2 619.0 1335.3 619.0C1337.8 619.0 1340.4 624.5 1342.9 627.6C1345.5 630.8 1348.0 638.2 1350.6 638.2C1353.2 638.2 1355.7 633.6 1358.3 628.9C1360.1 625.5 1362.0 612.9 1363.8 609.9C1365.0 607.9 1366.3 605.8 1367.5 605.8C1369.5 605.8 1371.6 613.1 1373.6 617.5C1376.2 623.1 1378.7 631.1 1381.3 637.1C1384.4 644.1 1387.4 651.7 1390.5 656.4C1393.1 660.3 1395.6 664.5 1398.2 665.8C1401.3 667.4 1404.3 668.8 1407.4 668.8C1412.5 668.8 1417.6 666.4 1422.7 665.0C1427.8 663.6 1432.9 662.4 1438.0 660.4C1442.1 658.9 1446.2 657.6 1450.3 654.2C1452.9 652.1 1455.4 647.3 1458.0 640.9C1460.0 635.8 1462.1 625.9 1464.1 614.8C1465.6 606.4 1467.2 590.4 1468.7 581.4C1470.3 572.0 1471.9 557.9 1473.5 557.9C1475.0 557.9 1476.4 572.2 1477.9 581.8C1479.4 591.8 1481.0 608.1 1482.5 619.3C1484.0 630.4 1485.6 643.7 1487.1 649.4C1489.1 657.1 1491.2 662.3 1493.2 665.1C1496.3 669.3 1499.3 672.5 1502.4 673.4C1508.5 675.2 1514.7 676.0 1520.8 676.4C1530.9 677.0 1540.9 677.2 1551.0 677.4C1551.2 677.4 1551.3 677.4 1551.5 677.4C1559.7 677.4 1567.8 677.4 1576.0 677.3C1579.1 677.3 1582.1 675.8 1585.2 675.8C1590.3 675.8 1595.5 678.4 1600.6 678.9C1607.7 679.7 1614.9 680.5 1622.0 680.5C1632.2 680.5 1642.5 678.6 1652.7 678.3C1668.0 677.8 1683.4 677.8 1698.7 677.4C1714.0 677.0 1729.4 676.3 1744.7 675.9C1760.1 675.6 1775.4 675.0 1790.8 675.0C1801.0 675.0 1811.2 675.1 1821.4 675.2C1831.6 675.3 1841.8 676.7 1852.0 677.4C1852.0 677.4 1852.1 677.4 1852.1 677.4C1862.3 678.1 1872.6 678.9 1882.8 679.5C1893.8 680.1 1904.8 680.7 1915.8 681.1" stroke="#00007C" stroke-width="10.7"/>
<path d="M139.5 567L139.5 531.9C145.1 532.7 150.7 534.4 156.3 536.3C162.1 538.3 168.0 542.4 173.8 545.0C180.6 548.1 187.5 552.0 194.3 553.4C200.6 554.7 207.0 556.0 213.3 556.0C216.7 556.0 220.1 552.3 223.5 549.0C226.7 546.0 229.9 533.4 233.1 533.4C236.2 533.4 239.4 544.4 242.5 549.7C244.9 553.7 247.4 561.5 249.8 561.5C255.1 561.5 260.5 560.6 265.8 560.6C273.1 560.6 280.4 565.2 287.7 565.2C297.5 565.2 307.2 563.7 317.0 563.7C326.7 563.7 336.5 565.2 346.2 565.2C351.1 565.2 355.9 562.9 360.8 560.6C366.1 558.1 371.5 545.0 376.8 545.0C380.7 545.0 384.6 552.8 388.5 552.8C392.4 552.8 396.3 549.7 400.2 549.7C404.6 549.7 409.0 559.7 413.4 560.6C417.3 561.5 421.1 562.1 425.0 562.1C431.8 562.1 438.7 559.1 445.5 556.0C450.4 553.7 455.2 547.2 460.1 543.6C463.5 541.1 466.9 536.9 470.3 536.9C473.7 536.9 477.1 544.5 480.5 546.6C484.4 549.0 488.3 551.8 492.2 551.9C498.1 552.1 503.9 552.2 509.8 552.2C515.6 552.2 521.5 548.2 527.3 548.2C535.1 548.2 542.8 550.0 550.6 551.3C557.4 552.4 564.3 556.0 571.1 556.0C574.5 556.0 577.9 550.7 581.3 548.2C584.7 545.6 588.1 540.7 591.5 540.7C596.4 540.7 601.3 542.2 606.2 543.6C610.1 544.7 613.9 549.7 617.8 549.7C626.6 549.7 635.3 549.7 644.1 549.7C652.9 549.7 661.6 549.0 670.4 549.0C677.2 549.0 684.1 550.1 690.9 551.3C694.8 552.0 698.7 555.3 702.6 555.3C705.5 555.3 708.4 553.4 711.3 553.4C714.7 553.4 718.1 557.4 721.5 557.4C726.4 557.4 731.2 554.4 736.1 554.4C739.0 554.4 741.9 559.2 744.8 560.6C749.2 562.7 753.6 565.2 758.0 565.2C764.8 565.2 771.6 565.2 778.4 565.2C785.2 565.2 792.1 563.0 798.9 560.6C803.8 558.9 808.6 550.3 813.5 550.3C818.4 550.3 823.2 556.6 828.1 556.6C833.0 556.6 837.8 548.6 842.7 546.6C847.1 544.8 851.4 542.7 855.8 542.7C859.2 542.7 862.7 549.5 866.1 552.8C869.5 556.0 872.9 562.1 876.3 562.1C881.6 562.1 887.0 557.2 892.3 554.4C897.7 551.5 903.0 545.0 908.4 545.0C912.8 545.0 917.2 548.2 921.6 548.2C924.0 548.2 926.5 543.8 928.9 539.2C931.3 534.6 933.8 519.1 936.2 508.5C938.1 500.1 940.1 488.4 942.0 482.2C943.8 476.5 945.5 469.0 947.3 469.0C949.4 469.0 951.6 481.4 953.7 488.1C956.6 497.3 959.6 510.5 962.5 517.3C966.4 526.3 970.3 532.1 974.2 537.7C977.6 542.6 981.0 550.3 984.4 550.3C986.8 550.3 989.3 548.0 991.7 545.0C993.6 542.6 995.6 531.5 997.5 526.1C999.3 521.1 1001.0 513.0 1002.8 513.0C1004.9 513.0 1007.1 525.3 1009.2 531.9C1011.6 539.5 1014.1 551.8 1016.5 556.0C1018.7 559.8 1021.0 563.7 1023.2 563.7C1026.3 563.7 1029.5 556.9 1032.6 552.8C1035.5 548.9 1038.4 541.7 1041.3 539.2C1043.7 537.1 1046.2 534.8 1048.6 534.8C1051.5 534.8 1054.5 540.6 1057.4 543.6C1061.3 547.6 1065.2 553.2 1069.1 556.0C1073.5 559.0 1077.8 562.8 1082.2 562.8C1087.1 562.8 1091.9 560.7 1096.8 559.7C1100.2 558.9 1103.7 557.4 1107.1 557.4C1112.4 557.4 1117.8 559.7 1123.1 559.7C1127.0 559.7 1130.9 555.3 1134.8 552.8C1139.7 549.6 1144.5 547.1 1149.4 542.1C1153.3 538.1 1157.2 531.5 1161.1 523.1C1164.5 515.8 1167.9 500.8 1171.3 491.0C1174.2 482.6 1177.2 473.5 1180.1 467.6C1181.8 464.2 1183.4 459.2 1185.1 459.2C1187.3 459.2 1189.6 465.8 1191.8 470.6C1195.2 478.0 1198.6 493.1 1202.0 502.7C1205.4 512.3 1208.8 522.6 1212.2 529.0C1216.6 537.3 1221.0 543.5 1225.4 548.2C1229.8 552.8 1234.1 557.9 1238.5 559.0C1241.9 559.9 1245.3 560.6 1248.7 560.6C1252.1 560.6 1255.6 555.1 1259.0 552.8C1261.9 550.8 1264.8 547.2 1267.7 547.2C1271.1 547.2 1274.5 550.4 1277.9 551.3C1281.8 552.3 1285.7 553.4 1289.6 553.4C1293.0 553.4 1296.4 549.6 1299.8 546.6C1303.5 543.2 1307.3 537.4 1311.0 531.0C1314.3 525.3 1317.7 518.0 1321.0 508.6C1323.7 500.9 1326.4 484.9 1329.1 478.1C1331.2 472.9 1333.2 466.0 1335.3 466.0C1337.8 466.0 1340.4 475.7 1342.9 481.2C1345.5 486.8 1348.0 499.6 1350.6 499.6C1353.2 499.6 1355.7 490.2 1358.3 481.2C1360.1 474.7 1362.0 453.3 1363.8 447.5C1365.0 443.6 1366.3 439.2 1367.5 439.2C1369.5 439.2 1371.6 452.0 1373.6 459.7C1376.2 469.4 1378.7 483.2 1381.3 493.5C1384.4 505.8 1387.4 518.8 1390.5 527.2C1393.1 534.2 1395.6 541.3 1398.2 544.1C1401.3 547.4 1404.3 550.5 1407.4 550.5C1412.5 550.5 1417.6 547.5 1422.7 545.6C1427.8 543.8 1432.9 542.2 1438.0 539.5C1442.1 537.3 1446.2 535.4 1450.3 530.3C1452.9 527.1 1455.4 519.2 1458.0 508.8C1460.0 500.5 1462.1 484.2 1464.1 465.9C1465.6 452.1 1467.2 425.5 1468.7 410.7C1470.3 395.2 1471.9 372.0 1473.5 372.0C1475.0 372.0 1476.4 395.2 1477.9 410.7C1479.4 426.9 1481.0 453.8 1482.5 472.0C1484.0 490.2 1485.6 511.9 1487.1 521.1C1489.1 533.2 1491.2 541.6 1493.2 545.6C1496.3 551.7 1499.3 555.8 1502.4 557.1C1508.5 559.7 1514.7 561.1 1520.8 561.4C1531.0 561.8 1541.3 562.0 1551.5 562.0C1559.7 562.0 1567.8 561.8 1576.0 561.4C1579.1 561.2 1582.1 558.7 1585.2 558.7C1590.3 558.7 1595.5 562.8 1600.6 563.6C1607.7 564.7 1614.9 565.8 1622.0 565.8C1632.2 565.8 1642.5 562.6 1652.7 562.0C1668.0 561.1 1683.4 561.0 1698.7 560.3C1714.0 559.6 1729.4 558.0 1744.7 557.1C1760.1 556.2 1775.4 554.8 1790.8 554.8C1801.0 554.8 1811.2 554.8 1821.4 554.8C1831.6 554.8 1841.9 556.9 1852.1 558.1C1862.3 559.3 1872.6 560.9 1882.8 562.0C1893.8 563.2 1904.8 564.3 1915.8 565.2" stroke="#8B0000" stroke-width="10.9"/>
<path d="M139.5 359.0C143.1 359.7 146.8 361.5 150.4 363.7C156.4 367.3 162.3 377.5 168.3 383.3C175.1 390.0 182.0 396.0 188.8 401.2C193.5 404.7 198.1 409.0 202.8 410.7C205.4 411.6 207.9 412.7 210.5 412.7C213.0 412.7 215.6 409.1 218.1 405.0C219.8 402.2 221.6 391.8 223.3 387.2C225.4 381.7 227.5 373.9 229.6 373.9C231.7 373.9 233.9 382.8 236.0 389.7C237.7 395.2 239.4 407.6 241.1 412.7C242.8 417.8 244.5 422.7 246.2 424.2C248.3 426.0 250.5 427.5 252.6 427.5C256.9 427.5 261.1 423.4 265.4 423.4C269.2 423.4 273.1 429.6 276.9 430.0C282.4 430.6 288.0 431.0 293.5 431.0C301.2 431.0 308.8 428.4 316.5 428.0C321.6 427.7 326.7 427.7 331.8 427.5C336.9 427.3 342.1 427.3 347.2 427.0C350.6 426.8 354.0 422.1 357.4 417.8C360.4 414.1 363.3 405.4 366.3 400.0C369.1 394.9 372.0 385.9 374.8 385.9C377.1 385.9 379.4 396.0 381.7 398.6C383.8 400.9 385.9 403.7 388.0 403.7C391.0 403.7 394.0 393.5 397.0 393.5C399.6 393.5 402.1 403.5 404.7 407.6C406.8 410.9 408.9 415.3 411.0 416.5C414.8 418.7 418.7 420.4 422.5 420.4C428.0 420.4 433.5 416.4 439.0 412.7C443.2 409.9 447.3 405.2 451.5 398.6C454.4 394.0 457.3 383.0 460.2 377.0C462.6 372.1 464.9 364.2 467.3 364.2C469.8 364.2 472.4 374.2 474.9 379.5C477.5 384.8 480.0 394.4 482.6 396.0C484.3 397.0 486.0 397.9 487.7 397.9C490.3 397.9 492.8 394.3 495.4 394.3C499.2 394.3 503.1 399.4 506.9 399.4C512.4 399.4 518.0 389.7 523.5 389.7C529.5 389.7 535.4 399.1 541.4 400.0C545.6 400.7 549.9 400.6 554.1 401.2C558.8 401.9 563.5 405.6 568.2 405.6C570.7 405.6 573.3 401.1 575.8 397.4C578.8 393.1 581.8 379.5 584.8 377.0C587.3 374.9 589.9 373.1 592.4 373.1C595.8 373.1 599.3 376.1 602.7 378.2C606.9 380.8 611.2 389.2 615.4 389.2C619.7 389.2 623.9 385.5 628.2 384.6C632.2 383.8 636.2 382.8 640.2 382.8C643.6 382.8 647.0 384.6 650.4 385.9C653.8 387.3 657.3 391.3 660.7 391.8C664.9 392.4 669.2 392.3 673.4 392.8C678.1 393.3 682.8 393.8 687.5 395.3C690.5 396.2 693.4 402.2 696.4 403.8C698.5 405.0 700.7 406.3 702.8 406.3C705.4 406.3 707.9 403.8 710.5 403.8C714.3 403.8 718.2 409.6 722.0 409.6C725.8 409.6 729.7 402.0 733.5 402.0C735.6 402.0 737.8 406.9 739.9 410.2C742.0 413.5 744.1 420.4 746.2 422.9C748.8 426.0 751.3 428.9 753.9 429.3C756.5 429.7 759.0 430.0 761.6 430.0C764.4 430.0 767.2 428.7 770.0 428.0C772.3 427.4 774.6 426.6 776.9 426.0C779.6 425.3 782.3 425.1 785.0 424.2C786.7 423.7 788.3 422.6 790.0 421.4C792.9 419.4 795.7 416.4 798.6 412.5C801.2 409.0 803.7 400.4 806.3 397.4C808.9 394.4 811.4 391.0 814.0 391.0C816.1 391.0 818.2 396.4 820.3 398.7C822.4 401.0 824.6 405.0 826.7 405.0C829.3 405.0 831.8 401.4 834.4 398.7C836.9 396.0 839.5 388.9 842.0 387.2C845.0 385.1 848.0 383.3 851.0 383.3C853.1 383.3 855.3 388.4 857.4 392.3C859.9 396.9 862.5 408.6 865.0 412.7C868.0 417.5 871.0 422.9 874.0 422.9C876.6 422.9 879.1 416.8 881.7 412.7C884.7 408.0 887.6 396.9 890.6 394.8C894.9 391.8 899.1 389.7 903.4 389.7C908.5 389.7 913.6 396.1 918.7 396.1C921.3 396.1 923.8 389.3 926.4 382.0C928.5 375.9 930.7 359.8 932.8 343.7C934.5 330.8 936.2 309.8 937.9 292.7C939.2 280.0 940.4 262.7 941.7 254.3C943.1 244.8 944.6 233.3 946.0 233.3C947.5 233.3 949.1 244.8 950.6 254.3C952.3 265.0 954.1 292.3 955.8 305.4C957.9 321.3 960.0 333.5 962.1 343.7C965.1 358.3 968.1 369.9 971.1 379.5C973.6 387.6 976.2 397.2 978.7 400.0C980.4 401.9 982.2 403.8 983.9 403.8C985.6 403.8 987.3 399.7 989.0 394.8C990.7 389.9 992.4 366.8 994.1 356.5C996.1 344.2 998.2 326.0 1000.2 326.0C1002.0 326.0 1003.8 335.1 1005.6 343.7C1007.3 351.8 1009.0 376.1 1010.7 387.2C1012.8 401.1 1015.0 415.8 1017.1 420.4C1018.8 424.1 1020.5 427.5 1022.2 427.5C1024.3 427.5 1026.5 420.5 1028.6 415.3C1031.1 409.2 1033.7 395.1 1036.2 389.7C1039.2 383.2 1042.2 375.7 1045.2 375.7C1047.7 375.7 1050.3 380.9 1052.8 384.6C1056.6 390.2 1060.5 400.9 1064.3 407.6C1067.3 412.8 1070.3 418.8 1073.3 421.6C1075.9 424.0 1078.4 426.7 1081.0 426.7C1084.8 426.7 1088.6 425.3 1092.4 424.2C1096.7 423.0 1100.9 419.1 1105.2 419.1C1109.5 419.1 1113.7 420.4 1118.0 420.4C1120.1 420.4 1122.3 418.3 1124.4 416.5C1126.6 414.6 1128.8 410.2 1131.0 407.0C1134.3 402.1 1137.7 397.4 1141.0 392.0C1144.1 387.0 1147.3 382.7 1150.4 375.7C1152.5 370.9 1154.7 364.4 1156.8 356.5C1158.9 348.6 1161.1 336.9 1163.2 325.9C1165.8 312.6 1168.3 293.6 1170.9 282.4C1173.0 273.1 1175.2 263.5 1177.3 259.5C1179.0 256.3 1180.7 252.8 1182.4 252.8C1184.4 252.8 1186.3 260.8 1188.3 267.1C1190.6 274.5 1192.9 289.0 1195.2 300.3C1197.7 312.8 1200.3 327.8 1202.8 338.6C1205.8 351.4 1208.8 363.4 1211.8 371.8C1215.2 381.4 1218.6 387.8 1222.0 394.8C1225.4 401.8 1228.8 409.3 1232.2 414.0C1235.6 418.7 1239.0 425.0 1242.4 425.0C1245.0 425.0 1247.5 421.2 1250.1 417.8C1252.6 414.4 1255.2 403.5 1257.7 400.0C1259.8 397.0 1262.0 393.5 1264.1 393.5C1268.4 393.5 1272.6 395.4 1276.9 396.9C1280.3 398.1 1283.7 402.5 1287.1 402.5C1289.7 402.5 1292.2 398.7 1294.8 394.8C1297.4 390.9 1299.9 378.7 1302.5 369.3C1304.6 361.6 1306.7 350.4 1308.8 343.7C1311.8 334.2 1314.8 333.0 1317.8 320.8C1319.5 313.9 1321.2 294.1 1322.9 279.9C1324.2 269.3 1325.4 252.6 1326.7 246.7C1328.4 238.8 1330.1 231.0 1331.8 231.0C1333.9 231.0 1336.1 244.6 1338.2 254.3C1340.3 264.0 1342.5 282.7 1344.6 292.7C1346.1 299.6 1347.5 310.0 1349.0 310.0C1350.9 310.0 1352.9 298.8 1354.8 287.5C1356.5 277.5 1358.2 241.8 1359.9 228.8C1361.6 215.8 1363.3 199.5 1365.0 199.5C1367.1 199.5 1369.3 212.4 1371.4 223.7C1373.5 235.0 1375.7 262.8 1377.8 279.9C1380.4 300.4 1382.9 319.8 1385.5 336.1C1388.1 352.4 1390.6 369.4 1393.2 379.5C1395.3 387.7 1397.4 395.6 1399.5 398.7C1401.6 401.9 1403.8 405.0 1405.9 405.0C1409.3 405.0 1412.8 402.2 1416.2 400.0C1420.4 397.3 1424.7 392.0 1428.9 387.2C1432.3 383.4 1435.7 380.5 1439.1 374.4C1441.7 369.8 1444.2 362.4 1446.8 351.4C1448.9 342.3 1451.1 325.1 1453.2 305.4C1454.9 289.7 1456.6 266.2 1458.3 241.6C1459.6 223.3 1460.8 198.7 1462.1 177.7C1463.4 156.1 1464.7 132.0 1466.0 113.9C1466.8 102.3 1467.7 88.4 1468.5 83.2C1469.5 76.7 1470.6 70.5 1471.6 70.5C1472.7 70.5 1473.8 76.5 1474.9 83.2C1475.9 89.5 1477.0 108.6 1478.0 126.6C1479.1 145.8 1480.2 179.5 1481.3 203.3C1482.6 230.7 1483.8 257.0 1485.1 279.9C1486.4 303.4 1487.7 330.7 1489.0 343.7C1490.7 360.7 1492.4 372.6 1494.1 379.5C1496.2 388.2 1498.4 393.6 1500.5 397.4C1503.9 403.5 1507.3 407.8 1510.7 410.2C1515.8 413.8 1520.9 416.0 1526.0 417.3C1532.0 418.8 1537.9 420.1 1543.9 420.4C1550.7 420.7 1557.5 420.9 1564.3 420.9C1569.4 420.9 1574.6 419.5 1579.7 419.1C1582.3 418.9 1584.9 418.6 1587.5 418.6C1592.6 418.6 1597.6 423.3 1602.7 425.5C1606.9 427.3 1611.2 429.6 1615.4 430.6C1618.3 431.2 1621.1 432.0 1624.0 432.0C1627.5 432.0 1631.1 431.0 1634.6 430.1C1637.4 429.4 1640.1 427.4 1642.9 426.2C1648.2 423.9 1653.5 419.8 1658.8 419.8C1664.1 419.8 1669.3 423.2 1674.6 423.2C1682.5 423.2 1690.4 421.7 1698.3 420.6C1711.5 418.8 1724.7 415.4 1737.9 413.3C1751.1 411.2 1764.3 408.6 1777.5 407.9C1787.4 407.3 1797.3 406.8 1807.2 406.8C1817.1 406.8 1827.0 407.5 1836.9 408.3C1846.8 409.1 1856.7 411.9 1866.6 414.3C1875.2 416.4 1883.7 419.1 1892.3 422.2C1900.1 425.0 1908.0 428.4 1915.8 432.1" stroke="#FF0014" stroke-width="10.4"/>
<path d="M139.5 359.0C143.1 359.7 146.8 361.5 150.4 363.7C156.4 367.3 162.3 377.5 168.3 383.3C175.1 390.0 182.0 396.0 188.8 401.2C193.5 404.7 198.1 409.0 202.8 410.7C205.4 411.6 207.9 412.7 210.5 412.7C213.0 412.7 215.6 409.1 218.1 405.0C219.8 402.2 221.6 391.8 223.3 387.2C225.4 381.7 227.5 373.9 229.6 373.9C231.7 373.9 233.9 382.8 236.0 389.7C237.7 395.2 239.4 407.6 241.1 412.7C242.8 417.8 244.5 422.7 246.2 424.2C248.3 426.0 250.5 427.5 252.6 427.5C256.9 427.5 261.1 423.4 265.4 423.4C269.2 423.4 273.1 429.6 276.9 430.0C282.4 430.6 288.0 431.0 293.5 431.0C301.2 431.0 308.8 428.4 316.5 428.0C321.6 427.7 326.7 427.7 331.8 427.5C336.9 427.3 342.1 427.3 347.2 427.0C350.6 426.8 354.0 422.1 357.4 417.8C360.4 414.1 363.3 405.4 366.3 400.0C369.1 394.9 372.0 385.9 374.8 385.9C377.1 385.9 379.4 396.0 381.7 398.6C383.8 400.9 385.9 403.7 388.0 403.7C391.0 403.7 394.0 393.5 397.0 393.5C399.6 393.5 402.1 403.5 404.7 407.6C406.8 410.9 408.9 415.3 411.0 416.5C414.8 418.7 418.7 420.4 422.5 420.4C428.0 420.4 433.5 416.4 439.0 412.7C443.2 409.9 447.3 405.2 451.5 398.6C454.4 394.0 457.3 383.0 460.2 377.0C462.6 372.1 464.9 364.2 467.3 364.2C469.8 364.2 472.4 374.2 474.9 379.5C477.5 384.8 480.0 394.4 482.6 396.0C484.3 397.0 486.0 397.9 487.7 397.9C490.3 397.9 492.8 394.3 495.4 394.3C499.2 394.3 503.1 399.4 506.9 399.4C512.4 399.4 518.0 389.7 523.5 389.7C529.5 389.7 535.4 399.1 541.4 400.0C545.6 400.7 549.9 400.6 554.1 401.2C558.8 401.9 563.5 405.6 568.2 405.6C570.7 405.6 573.3 401.1 575.8 397.4C578.8 393.1 581.8 379.5 584.8 377.0C587.3 374.9 589.9 373.1 592.4 373.1C595.8 373.1 599.3 376.1 602.7 378.2C606.9 380.8 611.2 389.2 615.4 389.2C619.7 389.2 623.9 385.5 628.2 384.6C632.2 383.8 636.2 382.8 640.2 382.8C643.6 382.8 647.0 384.6 650.4 385.9C653.8 387.3 657.3 391.3 660.7 391.8C664.9 392.4 669.2 392.3 673.4 392.8C678.1 393.3 682.8 393.8 687.5 395.3C690.5 396.2 693.4 402.2 696.4 403.8C698.5 405.0 700.7 406.3 702.8 406.3C705.4 406.3 707.9 403.8 710.5 403.8C714.3 403.8 718.2 409.6 722.0 409.6C725.8 409.6 729.7 402.0 733.5 402.0C735.6 402.0 737.8 406.9 739.9 410.2C742.0 413.5 744.1 420.4 746.2 422.9C748.8 426.0 751.3 428.9 753.9 429.3C756.5 429.7 759.0 430.0 761.6 430.0C764.4 430.0 767.2 428.7 770.0 428.0C772.3 427.4 774.6 426.6 776.9 426.0C779.6 425.3 782.3 425.1 785.0 424.2C786.7 423.7 788.3 422.6 790.0 421.4C792.9 419.4 795.7 416.4 798.6 412.5C801.2 409.0 803.7 400.4 806.3 397.4C808.9 394.4 811.4 391.0 814.0 391.0C816.1 391.0 818.2 396.4 820.3 398.7C822.4 401.0 824.6 405.0 826.7 405.0C829.3 405.0 831.8 401.4 834.4 398.7C836.9 396.0 839.5 388.9 842.0 387.2C845.0 385.1 848.0 383.3 851.0 383.3C853.1 383.3 855.3 388.4 857.4 392.3C859.9 396.9 862.5 408.6 865.0 412.7C868.0 417.5 871.0 422.9 874.0 422.9C876.6 422.9 879.1 416.8 881.7 412.7C884.7 408.0 887.6 396.9 890.6 394.8C894.9 391.8 899.1 389.7 903.4 389.7C908.5 389.7 913.6 396.1 918.7 396.1C921.3 396.1 923.8 389.3 926.4 382.0C928.5 375.9 930.7 359.8 932.8 343.7C934.5 330.8 936.2 309.8 937.9 292.7C939.2 280.0 940.4 262.7 941.7 254.3C943.1 244.8 944.6 233.3 946.0 233.3C947.5 233.3 949.1 244.8 950.6 254.3C952.3 265.0 954.1 292.3 955.8 305.4C957.9 321.3 960.0 333.5 962.1 343.7C965.1 358.3 968.1 369.9 971.1 379.5C973.6 387.6 976.2 397.2 978.7 400.0C980.4 401.9 982.2 403.8 983.9 403.8C985.6 403.8 987.3 399.7 989.0 394.8C990.7 389.9 992.4 366.8 994.1 356.5C996.1 344.2 998.2 326.0 1000.2 326.0C1002.0 326.0 1003.8 335.1 1005.6 343.7C1007.3 351.8 1009.0 376.1 1010.7 387.2C1012.8 401.1 1015.0 415.8 1017.1 420.4C1018.8 424.1 1020.5 427.5 1022.2 427.5C1024.3 427.5 1026.5 420.5 1028.6 415.3C1031.1 409.2 1033.7 395.1 1036.2 389.7C1039.2 383.2 1042.2 375.7 1045.2 375.7C1047.7 375.7 1050.3 380.9 1052.8 384.6C1056.6 390.2 1060.5 400.9 1064.3 407.6C1067.3 412.8 1070.3 418.8 1073.3 421.6C1075.9 424.0 1078.4 426.7 1081.0 426.7C1084.8 426.7 1088.6 425.3 1092.4 424.2C1096.7 423.0 1100.9 419.1 1105.2 419.1C1109.5 419.1 1113.7 420.4 1118.0 420.4C1120.1 420.4 1122.3 418.3 1124.4 416.5C1126.6 414.6 1128.8 410.2 1131.0 407.0C1134.3 402.1 1137.7 397.4 1141.0 392.0C1144.1 387.0 1147.3 382.7 1150.4 375.7C1152.5 370.9 1154.7 364.4 1156.8 356.5C1158.9 348.6 1161.1 336.9 1163.2 325.9C1165.8 312.6 1168.3 293.6 1170.9 282.4C1173.0 273.1 1175.2 263.5 1177.3 259.5C1179.0 256.3 1180.7 252.8 1182.4 252.8C1184.4 252.8 1186.3 260.8 1188.3 267.1C1190.6 274.5 1192.9 289.0 1195.2 300.3C1197.7 312.8 1200.3 327.8 1202.8 338.6C1205.8 351.4 1208.8 363.4 1211.8 371.8C1215.2 381.4 1218.6 387.8 1222.0 394.8C1225.4 401.8 1228.8 409.3 1232.2 414.0C1235.6 418.7 1239.0 425.0 1242.4 425.0C1245.0 425.0 1247.5 421.2 1250.1 417.8C1252.6 414.4 1255.2 403.5 1257.7 400.0C1259.8 397.0 1262.0 393.5 1264.1 393.5C1268.4 393.5 1272.6 395.4 1276.9 396.9C1280.3 398.1 1283.7 402.5 1287.1 402.5C1289.7 402.5 1292.2 398.7 1294.8 394.8C1297.4 390.9 1299.9 378.7 1302.5 369.3C1304.6 361.6 1306.7 350.4 1308.8 343.7C1311.8 334.2 1314.8 333.0 1317.8 320.8C1319.5 313.9 1321.2 294.1 1322.9 279.9C1324.2 269.3 1325.4 252.6 1326.7 246.7C1328.4 238.8 1330.1 231.0 1331.8 231.0C1333.9 231.0 1336.1 244.6 1338.2 254.3C1340.3 264.0 1342.5 282.7 1344.6 292.7C1346.1 299.6 1347.5 310.0 1349.0 310.0C1350.9 310.0 1352.9 298.8 1354.8 287.5C1356.5 277.5 1358.2 241.8 1359.9 228.8C1361.6 215.8 1363.3 199.5 1365.0 199.5C1367.1 199.5 1369.3 212.4 1371.4 223.7C1373.5 235.0 1375.7 262.8 1377.8 279.9C1380.4 300.4 1382.9 319.8 1385.5 336.1C1388.1 352.4 1390.6 369.4 1393.2 379.5C1395.3 387.7 1397.4 395.6 1399.5 398.7C1401.6 401.9 1403.8 405.0 1405.9 405.0C1409.3 405.0 1412.8 402.2 1416.2 400.0C1420.4 397.3 1424.7 392.0 1428.9 387.2C1432.3 383.4 1435.7 380.5 1439.1 374.4C1441.7 369.8 1444.2 362.4 1446.8 351.4C1448.9 342.3 1451.1 325.1 1453.2 305.4C1454.9 289.7 1456.6 266.2 1458.3 241.6C1459.6 223.3 1460.8 198.7 1462.1 177.7C1463.4 156.1 1464.7 132.0 1466.0 113.9C1466.8 102.3 1467.7 88.4 1468.5 83.2C1469.5 76.7 1470.6 70.5 1471.6 70.5C1472.7 70.5 1473.8 76.5 1474.9 83.2C1475.9 89.5 1477.0 108.6 1478.0 126.6C1479.1 145.8 1480.2 179.5 1481.3 203.3C1482.6 230.7 1483.8 257.0 1485.1 279.9C1486.4 303.4 1487.7 330.7 1489.0 343.7C1490.7 360.7 1492.4 372.6 1494.1 379.5C1496.2 388.2 1498.4 393.6 1500.5 397.4C1503.9 403.5 1507.3 407.8 1510.7 410.2C1515.8 413.8 1520.9 416.0 1526.0 417.3C1532.0 418.8 1537.9 420.1 1543.9 420.4C1550.7 420.7 1557.5 420.9 1564.3 420.9C1569.4 420.9 1574.6 419.5 1579.7 419.1C1582.3 418.9 1584.9 418.6 1587.5 418.6C1592.6 418.6 1597.6 423.3 1602.7 425.5C1606.9 427.3 1611.2 429.6 1615.4 430.6C1618.3 431.2 1621.1 432.0 1624.0 432.0C1627.5 432.0 1631.1 431.0 1634.6 430.1C1637.4 429.4 1640.1 427.4 1642.9 426.2C1648.2 423.9 1653.5 419.8 1658.8 419.8C1664.1 419.8 1669.3 423.2 1674.6 423.2C1682.5 423.2 1690.4 421.7 1698.3 420.6C1711.5 418.8 1724.7 415.4 1737.9 413.3C1751.1 411.2 1764.3 408.6 1777.5 407.9C1787.4 407.3 1797.3 406.8 1807.2 406.8C1817.1 406.8 1827.0 407.5 1836.9 408.3C1846.8 409.1 1856.7 411.9 1866.6 414.3C1875.2 416.4 1883.7 419.1 1892.3 422.2C1900.1 425.0 1908.0 428.4 1915.8 432.1" stroke="#FF2033" stroke-width="7.800000000000001"/>
</g>
<g fill="#0000FF"><circle cx="942.6" cy="1083.8" r="4.95"/><circle cx="961.6" cy="1091.1" r="4.95"/><circle cx="970.9" cy="1110.4" r="4.95"/><circle cx="973.6" cy="1129.1" r="4.95"/><circle cx="972.4" cy="1142.8" r="4.95"/><circle cx="966.5" cy="1161.5" r="4.95"/><circle cx="950.2" cy="1177" r="4.95"/><circle cx="931.5" cy="1172.1" r="4.95"/><circle cx="920.4" cy="1152.8" r="4.95"/><circle cx="917.2" cy="1134.4" r="4.95"/><circle cx="918.9" cy="1116" r="4.95"/><circle cx="925.9" cy="1096.4" r="4.95"/><circle cx="1195.3" cy="1072.2" r="4.95"/><circle cx="1211.6" cy="1086.8" r="4.95"/><circle cx="1217.8" cy="1105.7" r="4.95"/><circle cx="1218.4" cy="1119.8" r="4.95"/><circle cx="1216" cy="1139" r="4.95"/><circle cx="1206.1" cy="1158" r="4.95"/><circle cx="1187.7" cy="1165.9" r="4.95"/><circle cx="1170.7" cy="1151.9" r="4.95"/><circle cx="1163.7" cy="1134.1" r="4.95"/><circle cx="1162.3" cy="1115.1" r="4.95"/><circle cx="1165.5" cy="1095.5" r="4.95"/><circle cx="1176.3" cy="1077.1" r="4.95"/><circle cx="1364.4" cy="1082.2" r="4.95"/><circle cx="1381.3" cy="1097.2" r="4.95"/><circle cx="1387.4" cy="1116.2" r="4.95"/><circle cx="1388.3" cy="1131.3" r="4.95"/><circle cx="1385.9" cy="1149.1" r="4.95"/><circle cx="1376.1" cy="1167.8" r="4.95"/><circle cx="1357.4" cy="1175.8" r="4.95"/><circle cx="1340.5" cy="1162.6" r="4.95"/><circle cx="1333.4" cy="1142.9" r="4.95"/><circle cx="1331.9" cy="1124.8" r="4.95"/><circle cx="1334.7" cy="1106.1" r="4.95"/><circle cx="1346" cy="1087.4" r="4.95"/><circle cx="1474.8" cy="1084.7" r="4.95"/><circle cx="1492.6" cy="1094.2" r="4.95"/><circle cx="1500.3" cy="1113.5" r="4.95"/><circle cx="1500.9" cy="1123.3" r="4.95"/><circle cx="1496.9" cy="1141.7" r="4.95"/><circle cx="1481" cy="1157.3" r="4.95"/><circle cx="1462.6" cy="1152.4" r="4.95"/><circle cx="1452.4" cy="1134" r="4.95"/><circle cx="1450.9" cy="1115.9" r="4.95"/><circle cx="1457" cy="1096.6" r="4.95"/></g>
<path d="M438.9 345.1L426 371" stroke="#000" stroke-width="2" fill="none"/>
<path d="M411.1 400.4L419 366L434.1 374.2Z" fill="#000"/>
<text id="pk0" x="192.20" y="372.3" font-size="64" font-family="Liberation Serif, serif" font-weight="bold" style="font-kerning:none">482</text>
<text id="pk1" x="310.40" y="383.3" font-size="64" font-family="Liberation Serif, serif" font-weight="bold" style="font-kerning:none">612</text>
<text id="pk2" x="420.00" y="337.4" font-size="64" font-family="Liberation Serif, serif" font-weight="bold" style="font-kerning:none">638</text>
<text id="pk3" x="874.00" y="224.5" font-size="64" font-family="Liberation Serif, serif" font-weight="bold" style="font-kerning:none">1129</text>
<text id="pk4" x="963.00" y="319.5" font-size="64" font-family="Liberation Serif, serif" font-weight="bold" style="font-kerning:none">1177</text>
<text id="pk5" x="1088.40" y="226.2" font-size="64" font-family="Liberation Serif, serif" font-weight="bold" style="font-kerning:none">1342</text>
<text id="pk6" x="1188.80" y="279.9" font-size="64" font-family="Liberation Serif, serif" font-weight="bold" style="font-kerning:none">1474</text>
<text id="pk7" x="1316.20" y="208.6" font-size="64" font-family="Liberation Serif, serif" font-weight="bold" style="font-kerning:none">1504</text>
<text id="pk8" x="1489.00" y="97.3" font-size="64" font-family="Liberation Serif, serif" font-weight="bold" style="font-kerning:none">1599</text>
<text id="ln0" x="1555.60" y="380.6" font-size="69" font-family="Liberation Serif, serif" font-weight="bold" style="font-kerning:none">10</text>
<text id="lu0" x="1646.80" y="380.6" font-size="69" font-family="Liberation Serif, serif" font-weight="bold" style="font-kerning:none">μg/mL</text>
<text id="ln1" x="1568.40" y="531" font-size="69" font-family="Liberation Serif, serif" font-weight="bold" style="font-kerning:none">5</text>
<text id="lu1" x="1625.20" y="531" font-size="69" font-family="Liberation Serif, serif" font-weight="bold" style="font-kerning:none">μg/mL</text>
<text id="ln2" x="1565.80" y="648.9" font-size="69" font-family="Liberation Serif, serif" font-weight="bold" style="font-kerning:none">2.5</text>
<text id="lu2" x="1673.60" y="648.9" font-size="69" font-family="Liberation Serif, serif" font-weight="bold" style="font-kerning:none">μg/mL</text>
<text id="ln3" x="1567.00" y="751.6" font-size="69" font-family="Liberation Serif, serif" font-weight="bold" style="font-kerning:none">1</text>
<text id="lu3" x="1624.00" y="751.6" font-size="69" font-family="Liberation Serif, serif" font-weight="bold" style="font-kerning:none">μg/mL</text>
<text id="ln4" x="1550.00" y="836.7" font-size="69" font-family="Liberation Serif, serif" font-weight="bold" style="font-kerning:none">0.5</text>
<text id="lu4" x="1659.00" y="836.7" font-size="69" font-family="Liberation Serif, serif" font-weight="bold" style="font-kerning:none">μg/mL</text>
<text id="ln5" x="1553.20" y="933.4" font-size="69" font-family="Liberation Serif, serif" font-weight="bold" style="font-kerning:none">0.1</text>
<text id="lu5" x="1663.00" y="933.4" font-size="69" font-family="Liberation Serif, serif" font-weight="bold" style="font-kerning:none">μg/mL</text>
<text id="ln6" x="1527.00" y="1023.2" font-size="69" font-family="Liberation Serif, serif" font-weight="bold" style="font-kerning:none">0.05</text>
<text id="lu6" x="1670.40" y="1023.2" font-size="69" font-family="Liberation Serif, serif" font-weight="bold" style="font-kerning:none">μg/mL</text>
<text id="ln7" x="1526.00" y="1114.4" font-size="69" font-family="Liberation Serif, serif" font-weight="bold" style="font-kerning:none">0.01</text>
<text id="lu7" x="1669.20" y="1114.4" font-size="69" font-family="Liberation Serif, serif" font-weight="bold" style="font-kerning:none">μg/mL</text>
<text id="solid" x="1504.00" y="1250.6" font-size="69.65" font-family="Liberation Serif, serif" font-weight="bold" style="font-kerning:none">Solid powder</text>
<text id="tk0" transform="translate(105.40 1421.0) scale(1 1.05)" font-size="81" font-family="Liberation Sans, sans-serif" font-weight="bold" style="font-kerning:none">400</text>
<text id="tk1" transform="translate(549.00 1421.0) scale(1 1.05)" font-size="81" font-family="Liberation Sans, sans-serif" font-weight="bold" style="font-kerning:none">800</text>
<text id="tk2" transform="translate(971.00 1421.0) scale(1 1.05)" font-size="81" font-family="Liberation Sans, sans-serif" font-weight="bold" style="font-kerning:none">1200</text>
<text id="tk3" transform="translate(1416.80 1421.0) scale(1 1.05)" font-size="81" font-family="Liberation Sans, sans-serif" font-weight="bold" style="font-kerning:none">1600</text>
<text id="tk4" transform="translate(1859.00 1421.0) scale(1 1.05)" font-size="81" font-family="Liberation Sans, sans-serif" font-weight="bold" style="font-kerning:none">2000</text>
<text id="xt0" transform="translate(649.60 1525.7) scale(1 1.037)" font-size="93.3" font-family="Liberation Serif, serif" font-weight="bold" style="font-kerning:none">Raman</text>
<text id="xt1" transform="translate(964.40 1525.7) scale(1 1.037)" font-size="93.3" font-family="Liberation Serif, serif" font-weight="bold" style="font-kerning:none">shift</text>
<text id="xt2" transform="translate(1163.00 1525.7) scale(1.2 1.17)" font-size="94.6" font-family="Liberation Serif, serif" font-weight="bold" style="font-kerning:none">(</text>
<text id="xt3" transform="translate(1201.20 1525.7) scale(1 1.037)" font-size="93.3" font-family="Liberation Serif, serif" font-weight="bold" style="font-kerning:none">cm</text>
<text id="xt4" x="1320.80" y="1462.5" font-size="54" font-family="Liberation Serif, serif" font-weight="bold" style="font-kerning:none">-1</text>
<text id="xt5" transform="translate(1367.80 1525.7) scale(1.2 1.17)" font-size="94.6" font-family="Liberation Serif, serif" font-weight="bold" style="font-kerning:none">)</text>
<text id="yt0" transform="translate(76.3 1142.20) rotate(-90) scale(1 1)" font-size="94.3" font-family="Liberation Serif, serif" font-weight="bold" style="font-kerning:none">Raman</text>
<text id="yt1" transform="translate(76.3 823.80) rotate(-90) scale(1 1)" font-size="94.3" font-family="Liberation Serif, serif" font-weight="bold" style="font-kerning:none">intensity</text>
<text id="yt2" transform="translate(76.3 452.60) rotate(-90) scale(1 1)" font-size="94.3" font-family="Liberation Serif, serif" font-weight="bold" style="font-kerning:none">(cps)</text>
</svg>
</body></html>
